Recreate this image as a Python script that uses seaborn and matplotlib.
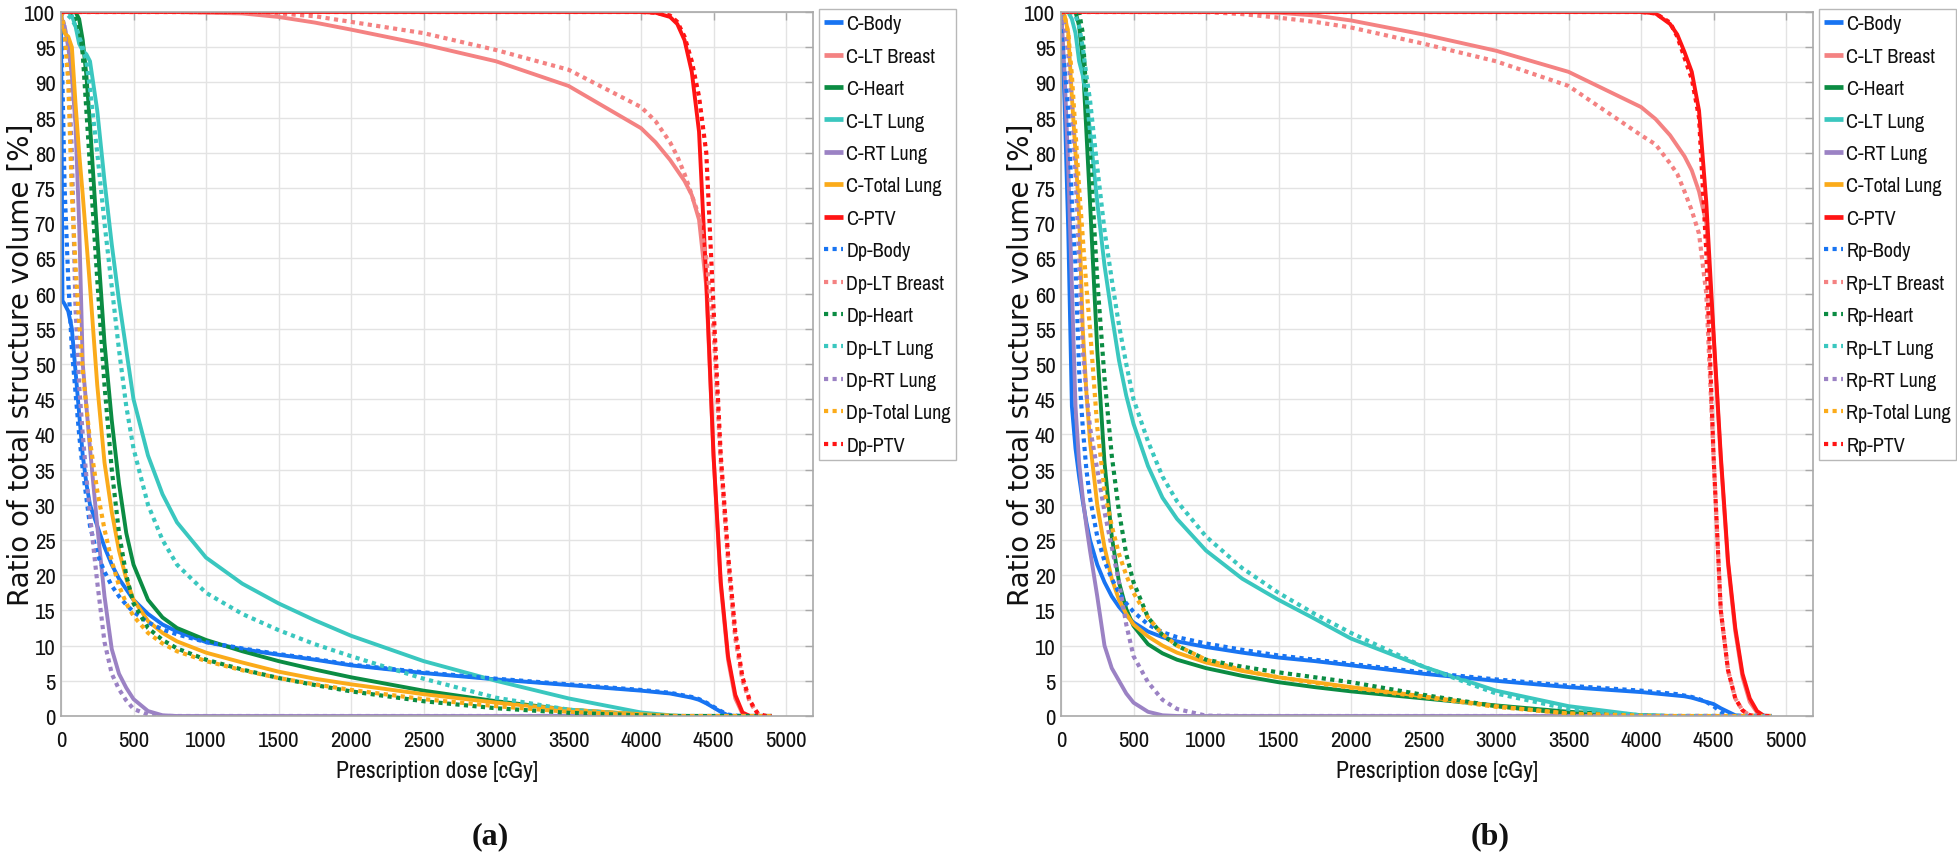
import numpy as np
import pandas as pd
import matplotlib
matplotlib.use("Agg")
import matplotlib.pyplot as plt
from matplotlib.lines import Line2D
from matplotlib import font_manager
import seaborn as sns

N = np.nan

# ---------------- data ----------------
dose_cgy = [0, 10, 25, 50, 75, 100, 125, 150, 175, 200, 250, 300, 350, 400, 450, 500, 600, 700, 800, 1000,
            1250, 1500, 1750, 2000, 2500, 3000, 3500, 4000,
            4100, 4200, 4250, 4300, 4350, 4400, 4450, 4500, 4550, 4600, 4650, 4700, 4750, 4800, 4850, 4900]

structures = ["Body", "LT Breast", "Heart", "LT Lung", "RT Lung", "Total Lung", "PTV"]
x_ticks = [0, 500, 1000, 1500, 2000, 2500, 3000, 3500, 4000, 4500, 5000]
y_ticks = [0, 5, 10, 15, 20, 25, 30, 35, 40, 45, 50, 55, 60, 65, 70, 75, 80, 85, 90, 95, 100]
panel_letters = ["(a)", "(b)"]
second_plans = ["Dp", "Rp"]

# panel (a): C plan (solid)
a_c_body = [100, 59, 58.5, 57.5, 55, 49, 43, 37, 33, 30, 27, 24, 21.5, 19.5, 18, 16.5, 14.5, 13, 12, 10.5,
            9.5, 8.7, 8.0, 7.2, 6.1, 5.2, 4.4, 3.6,
            3.4, 3.2, 3.0, 2.8, 2.6, 2.3, 1.8, 1.2, 0.6, 0.1, 0, N, N, N, N, N]
a_c_breast = [100, 100, 100, 100, 100, 100, 100, 100, 100, 100, 100, 100, 100, 100, 100, 100, 100, 100, 100, 99.9,
              99.8, 99.3, 98.5, 97.5, 95.4, 93.0, 89.5, 83.5,
              81.5, 79.0, 77.5, 76.0, 74.0, 70.5, 61.0, 37.0, 18.5, 8.0, 2.5, 0.3, 0, N, N, N]
a_c_heart = [100, 100, 100, 100, 100, 100, 99, 96, 91, 84, 68, 53, 42, 33, 26, 21.5, 16.5, 14, 12.5, 10.8,
             9.2, 7.8, 6.6, 5.5, 3.6, 2.1, 0.9, 0.2,
             0.1, 0, N, N, N, N, N, N, N, N, N, N, N, N, N, N]
a_c_ltlung = [100, 100, 100, 100, 99.5, 98, 95.5, 94.5, 94, 93, 86, 76, 67, 59, 52, 45, 37, 31.5, 27.5, 22.5,
              18.8, 16.0, 13.6, 11.4, 7.8, 5.0, 2.5, 0.5,
              0.3, 0.1, 0.05, 0, N, N, N, N, N, N, N, N, N, N, N, N]
a_c_rtlung = [100, 98.5, 98, 95, 91, 84, 70, 50, 44, 38, 27, 17, 9.5, 6, 4, 2.4, 0.7, 0.1, 0, 0,
              0, 0, 0, 0, 0, 0, 0, 0,
              0, 0, 0, 0, 0, 0, 0, 0, 0, 0, 0, N, N, N, N, N]
a_c_totlung = [100, 97.5, 97, 96.5, 95, 87, 80, 74, 67.5, 61, 47, 36, 29, 23.5, 19.5, 16.5, 13.5, 11.8, 10.6, 9.0,
               7.6, 6.3, 5.3, 4.5, 3.1, 1.9, 0.9, 0.25,
               0.15, 0.05, 0, N, N, N, N, N, N, N, N, N, N, N, N, N]
a_c_ptv = [100, 100, 100, 100, 100, 100, 100, 100, 100, 100, 100, 100, 100, 100, 100, 100, 100, 100, 100, 100,
           100, 100, 100, 100, 100, 100, 100, 100,
           99.9, 99.3, 98.3, 96.0, 91.5, 83.0, 62.0, 37.0, 19.0, 8.5, 3.0, 0.5, 0, N, N, N]

# panel (a): Dp plan (dotted)
a_dp_body = [100, 90, 75, 62, 52, 46, 40, 35, 31, 27, 23, 20.5, 18.5, 17, 15.8, 14.8, 13.3, 12.3, 11.6, 10.5,
             9.6, 8.8, 8.1, 7.3, 6.2, 5.3, 4.5, 3.7,
             3.5, 3.3, 3.1, 2.9, 2.7, 2.4, 1.9, 1.3, 0.7, 0.2, 0.05, 0, 0, 0, 0, 0]
a_dp_breast = [100, 100, 100, 100, 100, 100, 100, 100, 100, 100, 100, 100, 100, 100, 100, 100, 100, 100, 100, 100,
               100, 99.8, 99.4, 98.6, 97.0, 94.6, 91.8, 86.5,
               84.5, 81.5, 79.5, 77.0, 74.0, 71.0, 65.0, 55.0, 36.0, 22.0, 11.0, 5.0, 2.0, 0.4, 0, 0]
a_dp_heart = [100, 100, 100, 100, 100, 99.5, 98, 94, 86, 78, 62, 47, 35, 26, 20, 16, 12.5, 10.8, 9.6, 8.0,
              6.6, 5.4, 4.4, 3.5, 2.1, 1.1, 0.45, 0.1,
              0.05, 0, 0, 0, 0, 0, 0, 0, 0, 0, 0, 0, 0, 0, 0, 0]
a_dp_ltlung = [100, 100, 100, 99.5, 99, 98, 96.5, 95, 93, 89, 80, 70, 61, 52, 44, 38, 30, 25, 21.5, 17.5,
               14.5, 12.2, 10.2, 8.5, 5.3, 2.6, 0.9, 0.1,
               0.05, 0, 0, 0, 0, 0, 0, 0, 0, 0, 0, 0, 0, 0, 0, 0]
a_dp_rtlung = [100, 99, 98, 93, 80, 58, 47, 40, 34, 28.5, 19, 10.5, 6, 3.8, 2.2, 1.0, 0.2, 0, 0, 0,
               0, 0, 0, 0, 0, 0, 0, 0,
               0, 0, 0, 0, 0, 0, 0, 0, 0, 0, 0, 0, 0, 0, 0, 0]
a_dp_totlung = [100, 99, 97, 90, 74, 64, 56, 49, 44, 39, 32, 26.5, 22, 18.5, 16, 14.2, 11.8, 10.3, 9.2, 7.8,
                6.5, 5.4, 4.5, 3.7, 2.4, 1.4, 0.6, 0.15,
                0.08, 0.03, 0, 0, 0, 0, 0, 0, 0, 0, 0, 0, 0, 0, 0, 0]
a_dp_ptv = [100, 100, 100, 100, 100, 100, 100, 100, 100, 100, 100, 100, 100, 100, 100, 100, 100, 100, 100, 100,
            100, 100, 100, 100, 100, 100, 100, 100,
            99.9, 99.5, 98.6, 96.5, 93.0, 88.0, 80.0, 58.0, 37.0, 23.0, 12.0, 5.5, 2.2, 0.5, 0.05, 0]

# panel (b): C plan (solid)
b_c_body = [100, 95, 87, 69, 44, 38, 34, 30.5, 27.5, 25, 21.5, 19, 17, 15.5, 14.3, 13.3, 12, 11.2, 10.6, 9.8,
            9.0, 8.3, 7.8, 7.2, 6.0, 5.0, 4.1, 3.4,
            3.2, 3.0, 2.9, 2.8, 2.6, 2.3, 2.0, 1.7, 1.1, 0.6, 0.1, 0, N, N, N, N]
b_c_breast = [100, 100, 100, 100, 100, 100, 100, 100, 100, 100, 100, 100, 100, 100, 100, 100, 100, 100, 100, 100,
              100, 99.9, 99.5, 98.8, 96.8, 94.5, 91.5, 86.5,
              84.8, 82.5, 81.0, 79.5, 77.5, 74.5, 70.0, 54.0, 36.5, 21.5, 12.0, 5.5, 2.0, 0.5, 0, N]
b_c_heart = [100, 100, 100, 100, 100, 100, 98, 93, 83, 73, 52, 36, 25.5, 19, 15.2, 12.8, 10.2, 8.9, 8.0, 6.8,
             5.7, 4.8, 4.1, 3.5, 2.5, 1.5, 0.6, 0.1,
             0.05, 0, N, N, N, N, N, N, N, N, N, N, N, N, N, N]
b_c_ltlung = [100, 100, 100, 100, 99, 97, 93, 91, 88, 83, 73, 64, 57, 50.5, 45.5, 41.5, 35.5, 31, 28, 23.5,
              19.5, 16.5, 13.8, 11.0, 7.0, 3.6, 1.4, 0.1,
              0.05, 0, N, N, N, N, N, N, N, N, N, N, N, N, N, N]
b_c_rtlung = [100, 97, 91, 78, 61, 44, 36, 31, 27, 23.5, 17, 10, 6.8, 5, 3.2, 1.9, 0.6, 0.1, 0, 0,
              0, 0, 0, 0, 0, 0, 0, 0,
              0, 0, 0, 0, 0, 0, 0, 0, 0, 0, 0, N, N, N, N, N]
b_c_totlung = [100, 100, 99.5, 97, 88, 80, 71, 55, 46, 39, 30, 24, 19.5, 16.5, 14.5, 13, 11.3, 10, 9.0, 7.6,
               6.4, 5.5, 4.8, 4.1, 2.8, 1.4, 0.35, 0,
               0, N, N, N, N, N, N, N, N, N, N, N, N, N, N, N]
b_c_ptv = [100, 100, 100, 100, 100, 100, 100, 100, 100, 100, 100, 100, 100, 100, 100, 100, 100, 100, 100, 100,
           100, 100, 100, 100, 100, 100, 100, 100,
           99.8, 98.3, 96.8, 94.3, 91.5, 86.0, 73.0, 54.5, 37.0, 22.0, 12.5, 6.0, 2.5, 0.7, 0, 0]

# panel (b): Rp plan (dotted)
b_rp_body = [100, 96, 92, 86, 73, 64, 49, 41, 35, 31, 25.5, 22, 19.5, 17.5, 16, 14.8, 13, 11.9, 11.2, 10.3,
             9.4, 8.6, 8.0, 7.4, 6.2, 5.2, 4.3, 3.6,
             3.4, 3.2, 3.1, 2.9, 2.7, 2.4, 2.0, 1.4, 0.6, 0.15, 0, 0, 0, 0, 0, 0]
b_rp_breast = [100, 100, 100, 100, 100, 100, 100, 100, 100, 100, 100, 100, 100, 100, 100, 100, 100, 100, 100, 100,
               99.7, 99.2, 98.6, 97.8, 95.5, 93.0, 89.5, 82.5,
               81.2, 78.5, 77.0, 74.5, 71.8, 68.5, 60.0, 37.0, 15.0, 6.5, 2.5, 0.8, 0.1, 0, 0, 0]
b_rp_heart = [100, 100, 100, 100, 100, 100, 100, 97, 88, 80, 62, 48, 37, 29, 23, 19, 14, 11.5, 10, 8.0,
              7.0, 6.2, 5.5, 4.8, 3.0, 1.4, 0.4, 0.05,
              0, 0, 0, 0, 0, 0, 0, 0, 0, 0, 0, 0, 0, 0, 0, 0]
b_rp_ltlung = [100, 100, 100, 100, 100, 99.5, 98, 95, 91, 87.5, 78, 69, 62, 55.5, 50, 45, 39, 34, 30.5, 25.5,
               21, 17.5, 14.5, 11.8, 7.0, 3.2, 1.0, 0.1,
               0.05, 0, 0, 0, 0, 0, 0, 0, 0, 0, 0, 0, 0, 0, 0, 0]
b_rp_rtlung = [100, 99.5, 98, 94, 87, 77, 65, 52, 46, 41, 35, 29, 24, 19, 13, 8.5, 4.8, 2.3, 1.0, 0.05,
               0, 0, 0, 0, 0, 0, 0, 0,
               0, 0, 0, 0, 0, 0, 0, 0, 0, 0, 0, 0, 0, 0, 0, 0]
b_rp_totlung = [100, 100, 99.5, 97, 91, 83, 75, 68, 61, 55, 41, 32, 27, 23, 20, 17.5, 14, 11.6, 10, 8.0,
                6.5, 5.5, 4.7, 4.0, 2.7, 1.3, 0.35, 0.05,
                0, 0, 0, 0, 0, 0, 0, 0, 0, 0, 0, 0, 0, 0, 0, 0]
b_rp_ptv = [100, 100, 100, 100, 100, 100, 100, 100, 100, 100, 100, 100, 100, 100, 100, 100, 100, 100, 100, 100,
            100, 100, 100, 100, 100, 100, 100, 100,
            99.8, 98.5, 96.5, 93.5, 90.5, 85.0, 66.0, 37.0, 15.0, 6.5, 2.5, 0.8, 0.1, 0, 0, 0]

# ---------------- style ----------------
colors = ["#1874f2", "#f48282", "#0b8c43", "#3ac7bf", "#9b82c4", "#fbab1a", "#ff1414"]
palette = dict(zip(structures, colors))

sns.set_style("white")
available = {f.name for f in font_manager.fontManager.ttflist}
NARROW = "Liberation Sans"
for cand in ["Archivo Narrow", "Roboto Condensed", "PT Sans Narrow", "Liberation Sans Narrow",
             "IBM Plex Sans Condensed", "Fira Sans Condensed", "Encode Sans Condensed"]:
    if cand in available:
        NARROW = cand
        break
FS = 1.0 if NARROW != "Liberation Sans" else 0.84
plt.rcParams["font.family"] = [NARROW, "DejaVu Sans"]

SOLID_LW = 2.8
DOT_LW = 3.0
DOT_STYLE = (0, (1, 1.05))
GRID_C = "#e3e3e3"
EDGE_C = "#a9a9a9"


def long_frame(series):
    rows = []
    for name, vals in zip(structures, series):
        for d, v in zip(dose_cgy, vals):
            rows.append((name, d, v))
    return pd.DataFrame(rows, columns=["structure", "dose", "volume"])


panels = [
    (long_frame([a_c_body, a_c_breast, a_c_heart, a_c_ltlung, a_c_rtlung, a_c_totlung, a_c_ptv]),
     long_frame([a_dp_body, a_dp_breast, a_dp_heart, a_dp_ltlung, a_dp_rtlung, a_dp_totlung, a_dp_ptv])),
    (long_frame([b_c_body, b_c_breast, b_c_heart, b_c_ltlung, b_c_rtlung, b_c_totlung, b_c_ptv]),
     long_frame([b_rp_body, b_rp_breast, b_rp_heart, b_rp_ltlung, b_rp_rtlung, b_rp_totlung, b_rp_ptv])),
]

W, H = 1958, 862
fig = plt.figure(figsize=(W / 100, H / 100), dpi=100)
fig.patch.set_facecolor("white")

ax_left_px = [61, 1061]
ax_w_px, ax_top_px, ax_bot_px = 752, 13, 717
label_x_px = [490, 1490]

for i, (solid_df, dot_df) in enumerate(panels):
    ax = fig.add_axes([ax_left_px[i] / W, (H - ax_bot_px) / H, ax_w_px / W, (ax_bot_px - ax_top_px) / H])
    ax.set_facecolor("white")

    sns.lineplot(data=solid_df, x="dose", y="volume", hue="structure", hue_order=structures,
                 palette=palette, estimator=None, errorbar=None, sort=False, legend=False,
                 linewidth=SOLID_LW, linestyle="-", solid_capstyle="butt", ax=ax)
    sns.lineplot(data=dot_df, x="dose", y="volume", hue="structure", hue_order=structures,
                 palette=palette, estimator=None, errorbar=None, sort=False, legend=False,
                 linewidth=DOT_LW, linestyle=DOT_STYLE, dash_capstyle="butt", ax=ax)

    ax.set_xlim(0, 5186)
    ax.set_ylim(0, 100)
    ax.set_xticks(x_ticks)
    ax.set_yticks(y_ticks)
    ax.set_xticklabels([str(t) for t in x_ticks])
    ax.set_yticklabels([str(t) for t in y_ticks])
    ax.grid(True, color=GRID_C, linewidth=1.0)
    ax.set_axisbelow(True)
    for s in ax.spines.values():
        s.set_color(EDGE_C)
        s.set_linewidth(1.2)
    ax.tick_params(direction="in", length=6, width=1, color=EDGE_C, top=True, right=True,
                   labelsize=16.5 * FS, labelcolor="#111111")
    ax.tick_params(axis="x", pad=10)
    ax.tick_params(axis="y", pad=4)

    ax.set_xlabel("Prescription dose [cGy]", fontsize=17 * FS, color="#111111")
    ax.xaxis.set_label_coords(0.5, -0.062)
    ax.set_ylabel("Ratio of total structure volume [%]", family="DejaVu Sans", fontsize=20,
                  color="#111111")
    ax.yaxis.set_label_coords(-0.034, 0.5)

    handles = [Line2D([], [], color=c, lw=SOLID_LW + 0.6, solid_capstyle="butt") for c in colors] + \
              [Line2D([], [], color=c, lw=DOT_LW, linestyle=DOT_STYLE, dash_capstyle="butt") for c in colors]
    labels = ["C-" + s for s in structures] + [second_plans[i] + "-" + s for s in structures]
    leg = ax.legend(handles, labels, loc="upper left", bbox_to_anchor=(1.008, 1.004), borderaxespad=0,
                    fontsize=14.5 * FS, handlelength=0.95, handletextpad=0.15, borderpad=0.25,
                    labelspacing=0.667, frameon=True, fancybox=False, framealpha=1,
                    edgecolor="#b8b8b8")
    leg.get_frame().set_linewidth(1.0)
    for t in leg.get_texts():
        t.set_color("#111111")

    fig.text(label_x_px[i] / W, 1 - 837 / H, panel_letters[i], ha="center", va="center",
             family="Liberation Serif", fontweight="bold", fontsize=23, color="#111111")

fig.savefig("out.png", dpi=100, facecolor="white")
